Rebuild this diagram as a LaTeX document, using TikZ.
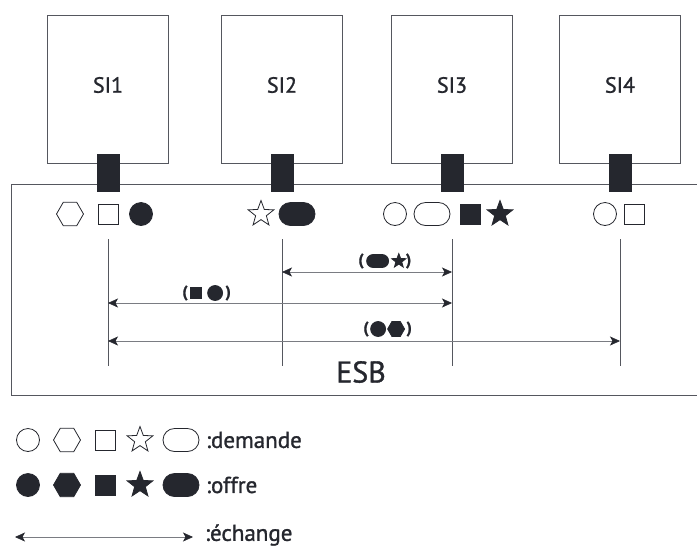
\documentclass[tikz,border=0pt]{standalone}
\usepackage{fontspec}
\setmainfont{PT Sans}[FakeBold=1.2]
\usetikzlibrary{positioning, shapes.geometric, shapes.misc, arrows.meta}
\definecolor{ink}{HTML}{25272E}
\definecolor{wire}{HTML}{55575E}
\definecolor{thin}{HTML}{7A7C82}

\begin{document}
\begin{tikzpicture}[x=1pt, y=-1pt,
    every node/.style={inner sep=0pt, outer sep=0pt},
    sibox/.style={draw=wire, line width=0.9pt, minimum width=121pt, minimum height=148pt},
    sitext/.style={font=\fontsize{22}{24}\selectfont, text=ink},
    plug/.style={draw=ink, fill=ink, minimum width=22pt, minimum height=37pt},
    dem/.style={draw=ink, line width=0.8pt, fill=white},
    off/.style={draw=ink, line width=0.8pt, fill=ink},
    rond/.style={circle, minimum size=23pt},
    hexa/.style={regular polygon, regular polygon sides=6, minimum size=27pt},
    carre/.style={rectangle, minimum size=20pt},
    etoile/.style={star, star points=5, star point ratio=2.4, minimum size=27pt},
    gelule/.style={rounded rectangle, minimum width=36pt, minimum height=23pt},
    paren/.style={font=\bfseries\fontsize{16}{18}\selectfont, text=ink},
    xch/.style={draw=thin, line width=0.6pt, {Stealth[length=10pt, width=9pt, inset=2.5pt, color=ink]}-{Stealth[length=10pt, width=9pt, inset=2.5pt, color=ink]}},
    legtext/.style={font=\fontsize{23}{25}\selectfont, text=ink, anchor=west}]

  \useasboundingbox (0,0) rectangle (697,550);

  % ESB frame, open on the right
  \draw[wire, line width=0.9pt] (705,184) -- (11,184) -- (11,395) -- (705,395);
  \node[font=\fontsize{30}{34}\selectfont, text=ink] (esb) at (361,372) {ESB};

  % the four SI with their plugs and their drop lines
  \foreach \i/\x in {1/108, 2/282, 3/452, 4/620}
  {
    \node[sibox] (si\i) at (\x,89) {};
    \node[sitext] (t\i) at (\x,85) {SI\i};
    \node[plug] (p\i) at (\x,172.5) {};
    \coordinate (h\i) at (\x,239);
    \coordinate (b\i) at (\x,366);
    \draw[wire, line width=0.7pt] (h\i) -- (b\i);
  }

  % shapes offered and asked on the bus
  \node[dem, hexa] (s1a) at (70,214) {};
  \node[dem, carre] (s1b) at (108,214) {};
  \node[off, rond] (s1c) at (141,214) {};
  \node[dem, etoile] (s2a) at (261,214) {};
  \node[off, gelule] (s2b) at (297,214) {};
  \node[dem, rond] (s3a) at (395,214) {};
  \node[dem, gelule] (s3b) at (432,214) {};
  \node[off, carre] (s3c) at (470,214) {};
  \node[off, etoile] (s3d) at (500,214) {};
  \node[dem, rond] (s4a) at (605,214) {};
  \node[dem, carre] (s4b) at (634,214) {};

  % exchanges
  \coordinate (x1a) at (282,272);
  \coordinate (x1b) at (452,272);
  \coordinate (x2a) at (108,303);
  \coordinate (x2b) at (452,303);
  \coordinate (x3a) at (108,341);
  \coordinate (x3b) at (620,341);
  \draw[xch] (x1a) -- (x1b);
  \draw[xch] (x2a) -- (x2b);
  \draw[xch] (x3a) -- (x3b);

  \node[paren] (o1) at (361,261) {(};
  \node[off, gelule, minimum width=22pt, minimum height=13pt, right=3pt of o1] (e1a) {};
  \node[off, etoile, minimum size=15pt, right=6pt of e1a] (e1b) {};
  \node[paren, right=3pt of e1b] (c1) {)};

  \node[paren] (o2) at (185,293) {(};
  \node[off, carre, minimum size=11pt, right=3pt of o2] (e2a) {};
  \node[off, rond, minimum size=15pt, right=6pt of e2a] (e2b) {};
  \node[paren, right=3pt of e2b] (c2) {)};

  \node[paren] (o3) at (366,329) {(};
  \node[off, rond, minimum size=15pt, right=2pt of o3] (e3a) {};
  \node[off, hexa, minimum size=17pt, right=2pt of e3a] (e3b) {};
  \node[paren, right=2pt of e3b] (c3) {)};

  % legend
  \foreach \kind/\y/\txt in {dem/440/{:demande}, off/485/{:offre}}
  {
    \node[\kind, rond] at (28,\y) {};
    \node[\kind, hexa] at (67,\y) {};
    \node[\kind, carre] at (105,\y) {};
    \node[\kind, etoile] at (140,\y) {};
    \node[\kind, gelule] at (181,\y) {};
    \node[legtext] at (206,\y) {\txt};
  }
  \coordinate (la) at (15,537);
  \coordinate (lb) at (193,537);
  \draw[xch] (la) -- (lb);
  \node[legtext] (lx) at (205,535) {:échange};
\end{tikzpicture}
\end{document}
